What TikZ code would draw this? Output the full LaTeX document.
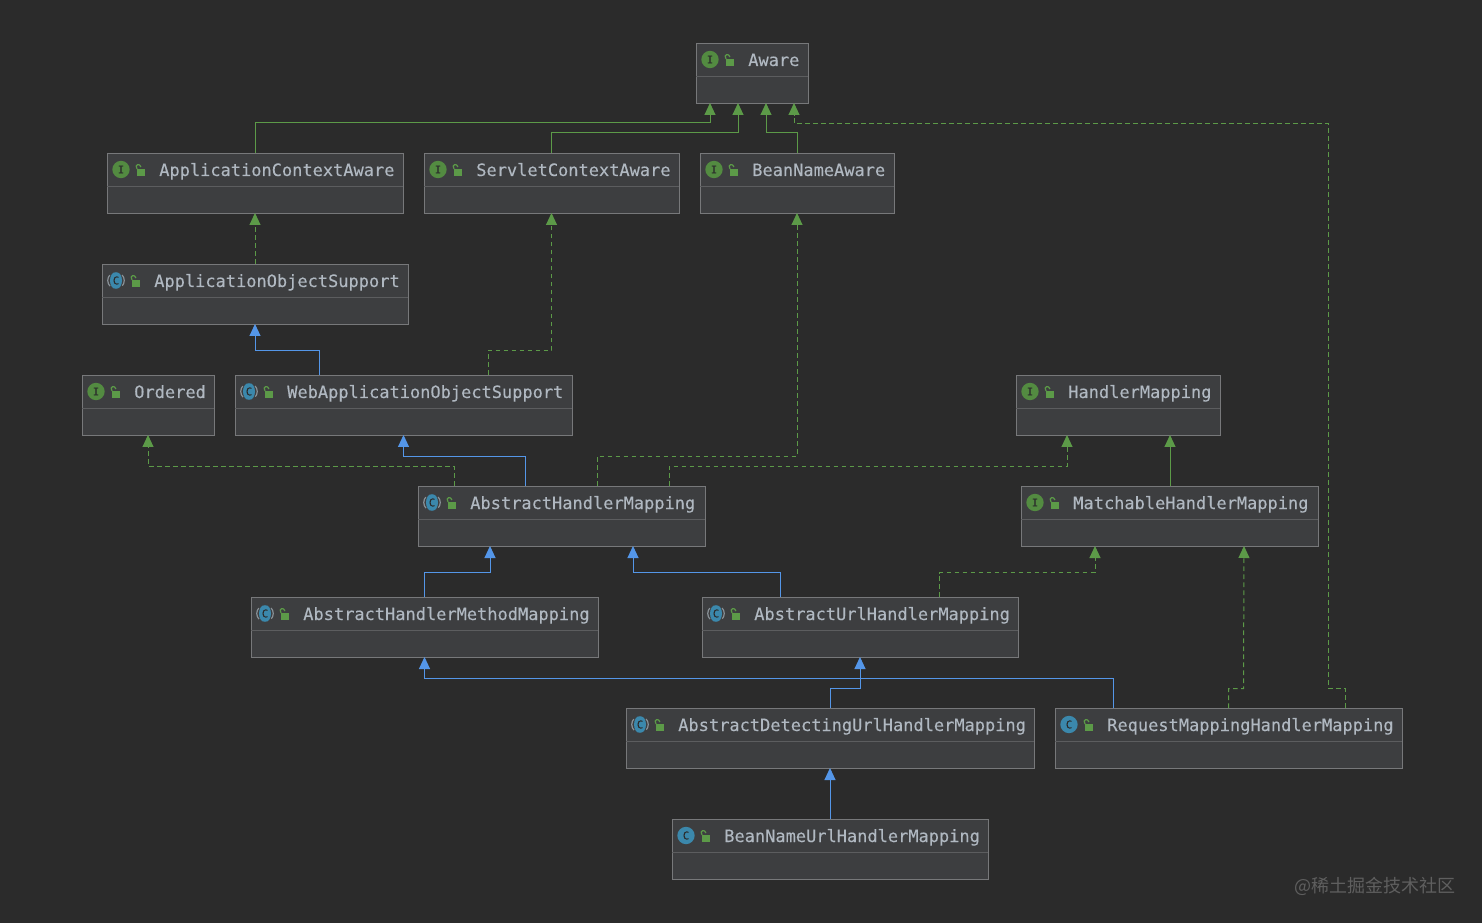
\documentclass[tikz,border=0pt]{standalone}
\usepackage{xcolor}
\usepackage{fontspec}
\setmonofont{DejaVu Sans Mono}[FakeBold=0.2]
\newfontfamily\cjkfont{Noto Sans CJK SC}
\definecolor{canvas}{HTML}{2B2B2B}
\definecolor{panel}{HTML}{3D3E40}
\definecolor{frame}{HTML}{77787A}
\definecolor{divider}{HTML}{5C5D5F}
\definecolor{ink}{HTML}{B0B8C1}
\definecolor{leaf}{HTML}{5C9A48}
\definecolor{sky}{HTML}{5496E8}
\definecolor{iconteal}{HTML}{3B88AC}
\definecolor{ringgray}{HTML}{8A9298}
\definecolor{mark}{HTML}{5F5F5F}
\usetikzlibrary{arrows.meta, calc}

\begin{document}
\begin{tikzpicture}[
    x=0.75pt, y=-0.75pt,
    box/.style={
        rectangle, draw=frame, fill=panel, line width=0.7pt,
        minimum height=45pt, inner sep=0pt, outer sep=0pt, anchor=north
    },
    lab/.style={
        anchor=base west, inner sep=0pt, text=ink,
        font=\fontsize{12.74}{14}\selectfont\ttfamily
    },
    iface/.style={
        circle, fill=leaf!90!black, minimum size=13pt, inner sep=0pt,
        text=canvas, font=\fontsize{8}{9}\selectfont\ttfamily
    },
    cls/.style={iface, fill=iconteal},
    abscls/.style={
        iface, fill=none, minimum size=12.4pt, draw=ringgray, line width=0.9pt,
        dash pattern=on 9pt off 10.5pt, dash phase=4.5pt,
        path picture={\fill[iconteal] (path picture bounding box.center) ellipse (4.5pt and 6.5pt);}
    },
    inherit/.style={sky, draw=sky, line width=0.75pt, -{Triangle[length=9pt, width=8.25pt]}},
    extend/.style={leaf, draw=leaf, line width=0.75pt, -{Triangle[length=9pt, width=8.25pt]}},
    impl/.style={extend, dash pattern=on 3.5pt off 2.5pt}
]

\useasboundingbox (0,0) rectangle (1482,923);
\fill[canvas] (0,0) rectangle (1482,923);

% --- Classes ---
\foreach \nm/\xa/\xb/\ya/\ic/\kc/\tx in {
    aware/696/808/43/iface/I/Aware,
    appCtx/107/403/153/iface/I/ApplicationContextAware,
    servletCtx/424/679/153/iface/I/ServletContextAware,
    beanName/700/894/153/iface/I/BeanNameAware,
    appObj/102/408/264/abscls/C/ApplicationObjectSupport,
    ordered/82/214/375/iface/I/Ordered,
    webObj/235/572/375/abscls/C/WebApplicationObjectSupport,
    handler/1016/1220/375/iface/I/HandlerMapping,
    absHandler/418/705/486/abscls/C/AbstractHandlerMapping,
    matchable/1021/1318/486/iface/I/MatchableHandlerMapping,
    absMethod/251/598/597/abscls/C/AbstractHandlerMethodMapping,
    absUrl/702/1018/597/abscls/C/AbstractUrlHandlerMapping,
    absDetect/626/1034/708/abscls/C/AbstractDetectingUrlHandlerMapping,
    reqMapping/1055/1402/708/cls/C/RequestMappingHandlerMapping,
    beanUrl/672/988/819/cls/C/BeanNameUrlHandlerMapping%
} {
    \node[box, minimum width={(\xb-\xa)*0.75pt}] (\nm) at ({(\xa+\xb)/2},\ya) {};
    \draw[divider, line width=0.7pt] ($(\nm.north west)+(0,33)$) -- ($(\nm.north east)+(0,33)$);
    \node[\ic] (\nm-icon) at ($(\nm.north west)+(14,16.5)$) {\kc};
    \fill[leaf] ($(\nm.north west)+(30,16)$) rectangle ($(\nm.north west)+(38,23)$);
    \draw[leaf, line width=0.9pt] ($(\nm.north west)+(30,16)$)
        .. controls ($(\nm.north west)+(27,11)$) and ($(\nm.north west)+(33,10)$) .. ($(\nm.north west)+(34,14)$);
    \node[lab] (\nm-lab) at ($(\nm.north west)+(52,23)$) {\tx};
}

% --- Towards Aware ---
\draw[extend] (appCtx.north) -- ++(0,-30) -| ($(aware.south west)+(14,0)$);
\draw[extend] (servletCtx.north) -- ++(0,-20) -| ($(aware.south west)+(42,0)$);
\draw[extend] (beanName.north) -- ++(0,-20) -| ($(aware.south west)+(70,0)$);
\draw[impl] ($(reqMapping.north west)+(290,0)$) -- ++(0,-19.5) -- ++(-17,0) -- ++(0,-565) -| ($(aware.south west)+(98,0)$);

% --- Support classes ---
\draw[impl] (appObj.north) -- (appCtx.south);
\draw[inherit] ($(webObj.north west)+(84,0)$) -- ++(0,-24.5) -| (appObj.south);
\draw[impl] ($(webObj.north west)+(253,0)$) -- ++(0,-24.5) -| (servletCtx.south);

% --- AbstractHandlerMapping ---
\draw[inherit] ($(absHandler.north west)+(107,0)$) -- ++(0,-29.5) -| (webObj.south);
\draw[impl] ($(absHandler.north west)+(36,0)$) -- ++(0,-19.5) -| (ordered.south);
\draw[impl] ($(absHandler.north west)+(179,0)$) -- ++(0,-29.5) -| (beanName.south);
\draw[impl] ($(absHandler.north west)+(251,0)$) -- ++(0,-19.5) -| ($(handler.south west)+(51,0)$);
\draw[extend] ($(matchable.north)+(0.5,0)$) -- ($(handler.south west)+(154,0)$);

% --- Lower levels ---
\draw[inherit] (absMethod.north) -- ++(0,-24.5) -| ($(absHandler.south west)+(72,0)$);
\draw[inherit] ($(absUrl.north west)+(78,0)$) -- ++(0,-24.5) -| ($(absHandler.south west)+(215,0)$);
\draw[impl] ($(absUrl.north west)+(237,0)$) -- ++(0,-24.5) -| ($(matchable.south west)+(74,0)$);
\draw[inherit] ($(reqMapping.north west)+(58,0)$) -- ++(0,-29.5) -| (absMethod.south);
\draw[inherit] (absDetect.north) -- ++(0,-19.5) -| (absUrl.south);
\draw[impl] (reqMapping.north) -- ++(0,-19.5) -- ++(15,0) -- ($(matchable.south west)+(223,0)$);
\draw[inherit] (beanUrl.north) -- (absDetect.south);

\node[anchor=base east, inner sep=0pt, text=mark, font=\fontsize{13.5}{15}\selectfont\cjkfont] (credit) at (1456,892) {@稀土掘金技术社区};

\end{tikzpicture}
\end{document}
